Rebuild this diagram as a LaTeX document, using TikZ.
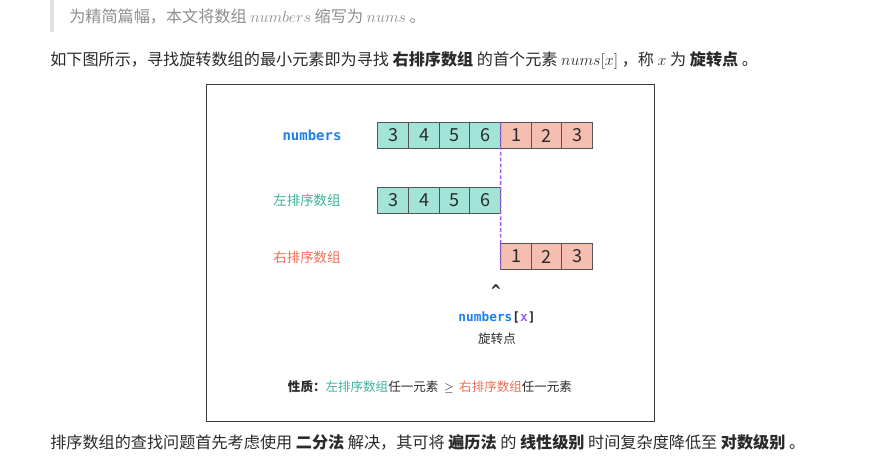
\documentclass[tikz,border=0pt]{standalone}
\usepackage{fontspec}
\setmainfont{Noto Sans CJK SC}
\newfontfamily\cjk{Noto Sans CJK SC}
\newfontfamily\monof{DejaVu Sans Mono}
\definecolor{tealfill}{HTML}{A2E4D8}
\definecolor{pinkfill}{HTML}{F4BEB0}
\definecolor{cellline}{HTML}{555555}
\definecolor{tealtxt}{HTML}{3DB19D}
\definecolor{redtxt}{HTML}{EE6E55}
\definecolor{bluetxt}{HTML}{1C80EE}
\definecolor{purp}{HTML}{A25CF2}
\definecolor{greytxt}{HTML}{8E8E8E}
\definecolor{bodytxt}{HTML}{2A2A2A}
\definecolor{barcol}{HTML}{E2E2E2}
\definecolor{framecol}{HTML}{3A3A3A}
\begin{document}
\begin{tikzpicture}[x=0.75pt,y=-0.75pt,
  cellbase/.style={draw=cellline,line width=0.75pt,minimum width=23pt,minimum height=19.5pt,inner sep=0pt,outer sep=0pt,font=\fontsize{13.5}{15}\selectfont,text=bodytxt},
  tcell/.style={cellbase,fill=tealfill},
  pcell/.style={cellbase,fill=pinkfill},
  body/.style={anchor=west,inner sep=0pt,font=\fontsize{12.1}{14}\selectfont,text=bodytxt},
  lab/.style={inner sep=0pt,font=\fontsize{10.1}{12}\selectfont},
  small/.style={inner sep=0pt,font=\fontsize{9.4}{11}\selectfont,text=bodytxt},
  pdash/.style={draw=purp,line width=1.2pt,dash pattern=on 2.8pt off 1.6pt},
  frame/.style={draw=framecol,line width=0.75pt}
]
\useasboundingbox (0,0) rectangle (887,460);
% quote
\fill[barcol] (50,0) rectangle (54,32);
\node[body,text=greytxt] (quote) at (69,16.5) {为精简篇幅，本文将数组 $numbers$ 缩写为 $nums$ 。};
\node[body] (intro) at (50,60.5) {如下图所示，寻找旋转数组的最小元素即为寻找 \textbf{右排序数组} 的首个元素 $nums[x]$ ，称 $x$ 为 \textbf{旋转点} 。};
% frame
\draw[frame] (206,84) rectangle (654.5,421);
% row 1
\node[tcell] (a1) at (393.3,135.5) {3};
\node[tcell] (a2) at (424.0,135.5) {4};
\node[tcell] (a3) at (454.7,135.5) {5};
\node[tcell] (a4) at (485.3,135.5) {6};
\node[pcell] (a5) at (516.0,135.5) {1};
\node[pcell] (a6) at (546.7,135.5) {2};
\node[pcell] (a7) at (577.3,135.5) {3};
% row 2
\node[tcell] (b1) at (393.3,200) {3};
\node[tcell] (b2) at (424.0,200) {4};
\node[tcell] (b3) at (454.7,200) {5};
\node[tcell] (b4) at (485.3,200) {6};
% row 3
\node[pcell] (c1) at (516.0,256.5) {1};
\node[pcell] (c2) at (546.7,256.5) {2};
\node[pcell] (c3) at (577.3,256.5) {3};
% dashed split
\draw[pdash] (a4.north east) -- (c1.south west);
% labels
\node[lab,text=bluetxt,font=\monof\bfseries\fontsize{10.5}{12}\selectfont] (lnum) at (312,135.5) {numbers};
\node[lab,text=tealtxt] (lleft) at (307,200) {左排序数组};
\node[lab,text=redtxt] (lright) at (307,257) {右排序数组};
\node[inner sep=0pt,text=bodytxt,font=\monof\bfseries\fontsize{12}{14}\selectfont] (caret) at (496,291) {\char`\^};
\node[inner sep=0pt,font=\monof\bfseries\fontsize{9.6}{11}\selectfont] (px) at (497,317) {\textcolor{bluetxt}{numbers}\textcolor{bodytxt}{[}\textcolor{purp}{x}\textcolor{bodytxt}{]}};
\node[small] (rot) at (497,338.5) {旋转点};
\node[small] (prop) at (430,387) {\textbf{性质：}\textcolor{tealtxt}{左排序数组}任一元素 ~$\geq$~ \textcolor{redtxt}{右排序数组}任一元素};
% bottom text
\node[body] (outro) at (50,442.5) {排序数组的查找问题首先考虑使用 \textbf{二分法} 解决，其可将 \textbf{遍历法} 的 \textbf{线性级别} 时间复杂度降低至 \textbf{对数级别} 。};
\end{tikzpicture}
\end{document}
